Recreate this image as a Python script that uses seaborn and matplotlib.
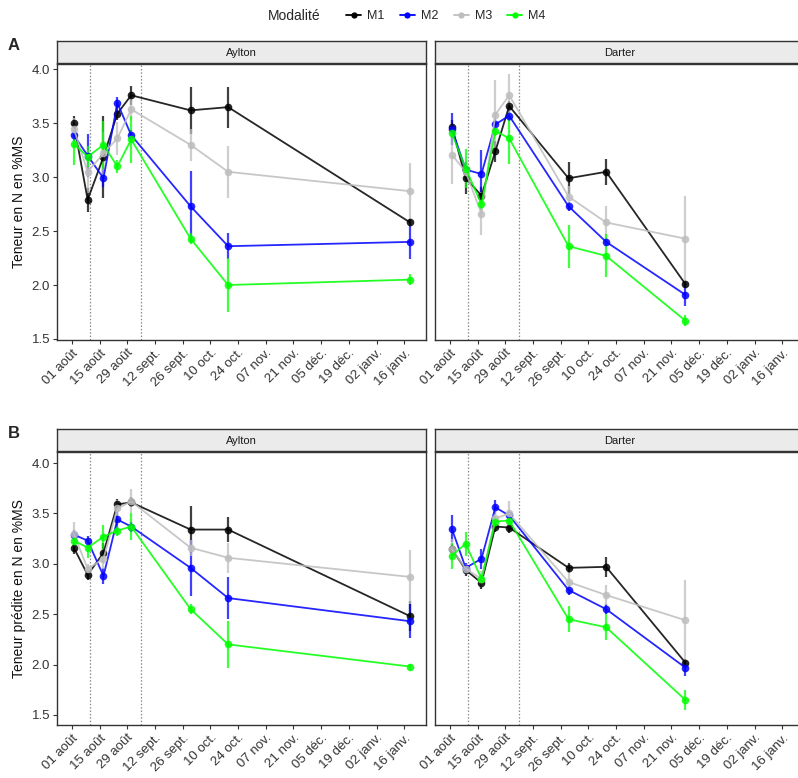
import pandas as pd
import numpy as np
import seaborn as sns
import matplotlib.pyplot as plt
import matplotlib.dates as mdates

sns.set_theme(style="white")
plt.rcParams['font.family'] = ['Liberation Sans', 'DejaVu Sans']

modalites = ["M1", "M2", "M3", "M4"]
couleurs = {"M1": "#000000", "M2": "#0000FF", "M3": "#BEBEBE", "M4": "#00FF00"}

dates_aylton = ["2022-08-02", "2022-08-09", "2022-08-17", "2022-08-24", "2022-08-31",
                "2022-09-30", "2022-10-19", "2023-01-19"]
dates_darter = ["2022-08-02", "2022-08-09", "2022-08-17", "2022-08-24", "2022-08-31",
                "2022-09-30", "2022-10-19", "2022-11-28"]

# A : teneur mesurée
A_aylton = {"M1": [3.50, 2.79, 3.19, 3.59, 3.76, 3.62, 3.65, 2.58],
            "M2": [3.39, 3.20, 2.99, 3.69, 3.39, 2.73, 2.36, 2.40],
            "M3": [3.45, 3.05, 3.22, 3.36, 3.63, 3.30, 3.05, 2.87],
            "M4": [3.31, 3.19, 3.30, 3.10, 3.35, 2.43, 2.00, 2.05]}
A_aylton_err = {"M1": [0.07, 0.11, 0.38, 0.06, 0.09, 0.22, 0.19, 0.03],
                "M2": [0.05, 0.20, 0.08, 0.05, 0.05, 0.33, 0.12, 0.16],
                "M3": [0.10, 0.20, 0.20, 0.15, 0.10, 0.15, 0.24, 0.26],
                "M4": [0.20, 0.10, 0.22, 0.06, 0.22, 0.05, 0.25, 0.05]}
A_darter = {"M1": [3.47, 2.99, 2.83, 3.24, 3.66, 2.99, 3.05, 2.01],
            "M2": [3.45, 3.07, 3.03, 3.49, 3.57, 2.73, 2.40, 1.91],
            "M3": [3.21, 3.05, 2.66, 3.58, 3.76, 2.82, 2.58, 2.43],
            "M4": [3.41, 3.08, 2.75, 3.43, 3.36, 2.36, 2.27, 1.67]}
A_darter_err = {"M1": [0.06, 0.15, 0.08, 0.10, 0.05, 0.15, 0.12, 0.03],
                "M2": [0.15, 0.06, 0.22, 0.05, 0.05, 0.04, 0.04, 0.10],
                "M3": [0.27, 0.10, 0.20, 0.32, 0.20, 0.10, 0.15, 0.40],
                "M4": [0.05, 0.18, 0.05, 0.05, 0.24, 0.20, 0.20, 0.05]}

# B : teneur prédite
B_aylton = {"M1": [3.16, 2.89, 3.11, 3.59, 3.61, 3.34, 3.34, 2.48],
            "M2": [3.29, 3.23, 2.88, 3.44, 3.37, 2.96, 2.66, 2.43],
            "M3": [3.30, 2.95, 3.05, 3.55, 3.62, 3.16, 3.06, 2.87],
            "M4": [3.23, 3.16, 3.27, 3.33, 3.37, 2.55, 2.20, 1.98]}
B_aylton_err = {"M1": [0.06, 0.05, 0.10, 0.05, 0.05, 0.23, 0.12, 0.15],
                "M2": [0.05, 0.05, 0.08, 0.12, 0.05, 0.28, 0.21, 0.17],
                "M3": [0.12, 0.05, 0.10, 0.08, 0.12, 0.08, 0.15, 0.27],
                "M4": [0.05, 0.10, 0.12, 0.05, 0.13, 0.05, 0.23, 0.03]}
B_darter = {"M1": [3.15, 2.94, 2.81, 3.37, 3.36, 2.96, 2.97, 2.02],
            "M2": [3.35, 2.96, 3.05, 3.56, 3.48, 2.74, 2.55, 1.97],
            "M3": [3.15, 2.95, 2.85, 3.45, 3.50, 2.82, 2.69, 2.44],
            "M4": [3.08, 3.20, 2.85, 3.42, 3.43, 2.45, 2.37, 1.65]}
B_darter_err = {"M1": [0.05, 0.06, 0.06, 0.05, 0.05, 0.05, 0.10, 0.04],
                "M2": [0.13, 0.05, 0.10, 0.07, 0.05, 0.05, 0.05, 0.08],
                "M3": [0.10, 0.05, 0.08, 0.10, 0.12, 0.10, 0.10, 0.40],
                "M4": [0.13, 0.12, 0.05, 0.05, 0.05, 0.13, 0.13, 0.10]}

vlines_dates = ["2022-08-10", "2022-09-05"]
tick_dates = pd.date_range("2022-08-01", periods=13, freq="14D")
tick_labels = ["01 août", "15 août", "29 août", "12 sept.", "26 sept.", "10 oct.",
               "24 oct.", "07 nov.", "21 nov.", "05 déc.", "19 déc.", "02 janv.", "16 janv."]


def make_df(dates, vals, errs):
    rows = []
    for m in modalites:
        for d, v, e in zip(dates, vals[m], errs[m]):
            rows.append({"date": pd.Timestamp(d), "val": v, "err": e, "Modalité": m})
    return pd.DataFrame(rows)


W, H = 798, 778
fig = plt.figure(figsize=(W / 100, H / 100), dpi=100)

panel_w = 369
rows_px = [(64, 340, (1.49, 4.05), "A", "Teneur en N en %MS", A_aylton, A_aylton_err, A_darter, A_darter_err),
           (452, 725, (1.40, 4.11), "B", "Teneur prédite en N en %MS", B_aylton, B_aylton_err, B_darter, B_darter_err)]
cols_px = [(57, "Aylton", dates_aylton), (435, "Darter", dates_darter)]

for top, bot, ylim, letter, ylabel, va, ea, vd, ed in rows_px:
    for ci, (left, name, dates) in enumerate(cols_px):
        vals, errs = (va, ea) if ci == 0 else (vd, ed)
        df = make_df(dates, vals, errs)
        ax = fig.add_axes([left / W, 1 - bot / H, panel_w / W, (bot - top) / H])
        for d in vlines_dates:
            ax.axvline(pd.Timestamp(d), color="#8A8A8A", ls=(0, (1.2, 1.5)), lw=0.9, zorder=0)
        for m in modalites:
            sub = df[df["Modalité"] == m]
            ax.errorbar(sub["date"], sub["val"], yerr=sub["err"], fmt="none",
                        ecolor=couleurs[m], elinewidth=1.6, alpha=0.75, zorder=2)
        sns.lineplot(data=df, x="date", y="val", hue="Modalité", palette=couleurs,
                     marker="o", markersize=5.5, markeredgewidth=0, linewidth=1.3,
                     alpha=0.85, legend=False, ax=ax, zorder=3)
        ax.set_xlim(pd.Timestamp("2022-07-24 12:00"), pd.Timestamp("2023-01-27"))
        ax.set_ylim(*ylim)
        ax.set_xticks(tick_dates)
        ax.set_xticklabels(tick_labels, rotation=45, ha="right", rotation_mode="anchor",
                           fontsize=9.5, color="#333333")
        ax.set_yticks([1.5, 2.0, 2.5, 3.0, 3.5, 4.0])
        ax.set_yticklabels(["1.5", "2.0", "2.5", "3.0", "3.5", "4.0"],
                           fontsize=9.5, color="#333333")
        ax.tick_params(axis="both", length=3, width=0.8, color="#333333", pad=2,
                       bottom=True, left=(ci == 0), labelleft=(ci == 0))
        ax.set_xlabel("")
        ax.set_ylabel(ylabel if ci == 0 else "", fontsize=10, color="#111111", labelpad=4)
        ax.grid(False)
        for s in ax.spines.values():
            s.set_color("#333333")
            s.set_linewidth(1.0)
        # strip
        sax = fig.add_axes([left / W, 1 - (top - 1) / H, panel_w / W, 22 / H])
        sax.set_facecolor("#EBEBEB")
        sax.set_xticks([])
        sax.set_yticks([])
        for s in sax.spines.values():
            s.set_color("#333333")
            s.set_linewidth(1.0)
        sax.text(0.5, 0.45, name, ha="center", va="center", fontsize=8, color="#1A1A1A",
                 transform=sax.transAxes)
    fig.text(8 / W, 1 - (top - 18) / H, letter, fontsize=12, fontweight="bold", va="center")

# legend
fig.text(268 / W, 1 - 16 / H, "Modalité", fontsize=10, va="center", ha="left")
handles = [plt.Line2D([], [], color=couleurs[m], marker="o", markersize=4.5, lw=1.3,
                      markeredgewidth=0) for m in modalites]
fig.legend(handles, modalites, loc="center left", bbox_to_anchor=(340 / W, 1 - 16 / H),
           ncol=4, frameon=False, fontsize=9, handlelength=1.2, handletextpad=0.5,
           columnspacing=1.2, borderpad=0)

fig.savefig("out.png", dpi=100)
